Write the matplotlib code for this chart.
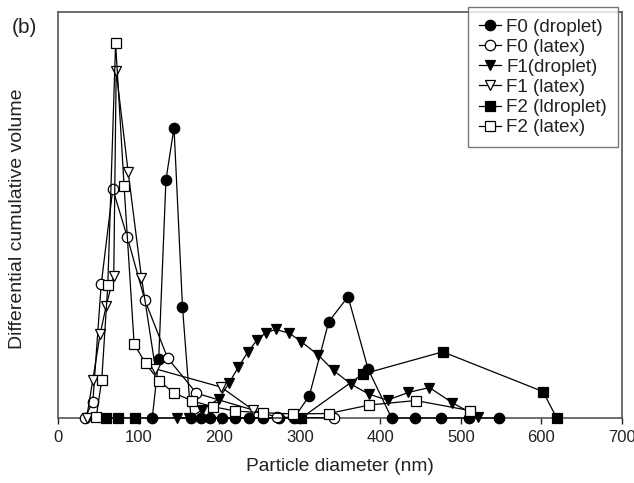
import matplotlib
matplotlib.use("Agg")
import matplotlib.pyplot as plt

plt.rcParams['font.family'] = ['Liberation Sans', 'DejaVu Sans']

# F0 (droplet)
f0d_x = [117, 125, 134, 144, 154.5, 165, 177, 189, 203, 220, 237, 254, 274, 293, 312, 336, 360, 385, 414, 443.5, 476, 510.5, 548]
f0d_y = [0, 14.5, 58.7, 71.5, 27.4, 0, 0, 0, 0, 0, 0, 0, 0, 0, 5.5, 23.7, 29.9, 12.0, 0, 0, 0, 0, 0]
# F0 (latex)
f0l_x = [33, 43.2, 53.6, 68, 85.8, 107.7, 136, 171.8, 272, 342]
f0l_y = [0, 3.9, 32.9, 56.4, 44.7, 29.1, 14.8, 6.1, 0.2, 0]
# F1(droplet)
f1d_x = [148, 163, 179, 200, 212, 224, 235.5, 247, 258, 270, 287, 302, 323, 342, 364, 385.6, 409, 435, 461, 489, 521]
f1d_y = [0, 0, 2.0, 4.8, 8.5, 12.6, 16.2, 19.2, 21.0, 21.8, 20.9, 18.8, 15.5, 11.7, 8.3, 5.9, 4.4, 6.3, 7.5, 3.8, 0.3]
# F1 (latex)
f1l_x = [35.5, 43.2, 52.3, 59.8, 69.2, 72.2, 87, 103.6, 121, 202.5, 242]
f1l_y = [0, 9.4, 20.7, 27.6, 35.0, 85.5, 60.7, 34.6, 12.1, 7.6, 2.0]
# F2 (ldroplet)
f2d_x = [60, 75, 95, 302, 378, 477.5, 602, 619]
f2d_y = [0, 0, 0, 0, 10.8, 16.3, 6.5, 0]
# F2 (latex)
f2l_x = [47.4, 54.3, 61.8, 71.5, 82, 94.5, 108.6, 125.5, 143.7, 166.5, 192, 220, 254, 292, 336, 386.5, 444, 512]
f2l_y = [0.2, 9.4, 32.7, 92.3, 57.2, 18.2, 13.5, 9.1, 6.2, 4.2, 2.8, 1.7, 1.3, 1.0, 1.1, 3.2, 4.3, 1.8]

labels = ["F0 (droplet)", "F0 (latex)", "F1(droplet)", "F1 (latex)", "F2 (ldroplet)", "F2 (latex)"]
xticks = [0, 100, 200, 300, 400, 500, 600, 700]

fig = plt.figure(figsize=(6.34, 4.83), dpi=100)
ax = fig.add_axes([0.0915, 0.1346, 0.8895, 0.8404])

series = [
    (f0d_x, f0d_y, 'o', 'black', 7.5),
    (f0l_x, f0l_y, 'o', 'white', 7.5),
    (f1d_x, f1d_y, 'v', 'black', 7.5),
    (f1l_x, f1l_y, 'v', 'white', 7.5),
    (f2d_x, f2d_y, 's', 'black', 6.5),
    (f2l_x, f2l_y, 's', 'white', 6.5),
]
for (xs, ys, m, fc, ms), lab in zip(series, labels):
    ax.plot(xs, ys, marker=m, color='black', markerfacecolor=fc, markeredgecolor='black',
            markersize=ms, markeredgewidth=0.9, linewidth=0.9, label=lab, clip_on=False, zorder=3)

ax.set_xlim(0, 700)
ax.set_ylim(0, 100)
ax.set_xticks(xticks)
ax.set_yticks([])
ax.tick_params(axis='x', direction='out', length=4, width=1, labelsize=12, colors='#222222', pad=5)
for sp in ax.spines.values():
    sp.set_color('#555555')
    sp.set_linewidth(1.2)

ax.set_xlabel("Particle diameter (nm)", fontsize=13.8, color='#222222')
ax.xaxis.set_label_coords(0.5, -0.098)
ax.set_ylabel("Differential cumulative volume", fontsize=14, color='#222222')
ax.yaxis.set_label_coords(-0.057, 0.49)
fig.text(0.018, 0.932, "(b)", fontsize=15, color='#222222')

leg = ax.legend(loc='upper right', bbox_to_anchor=(0.993, 1.012), fontsize=13.5, frameon=True,
                fancybox=False, edgecolor='#555555', handlelength=1.2, labelspacing=0.16,
                borderpad=0.6, handletextpad=0.25, borderaxespad=0.0)
leg.get_frame().set_linewidth(1.0)
for t in leg.get_texts():
    t.set_color('#222222')

fig.savefig("out.png", dpi=100)
